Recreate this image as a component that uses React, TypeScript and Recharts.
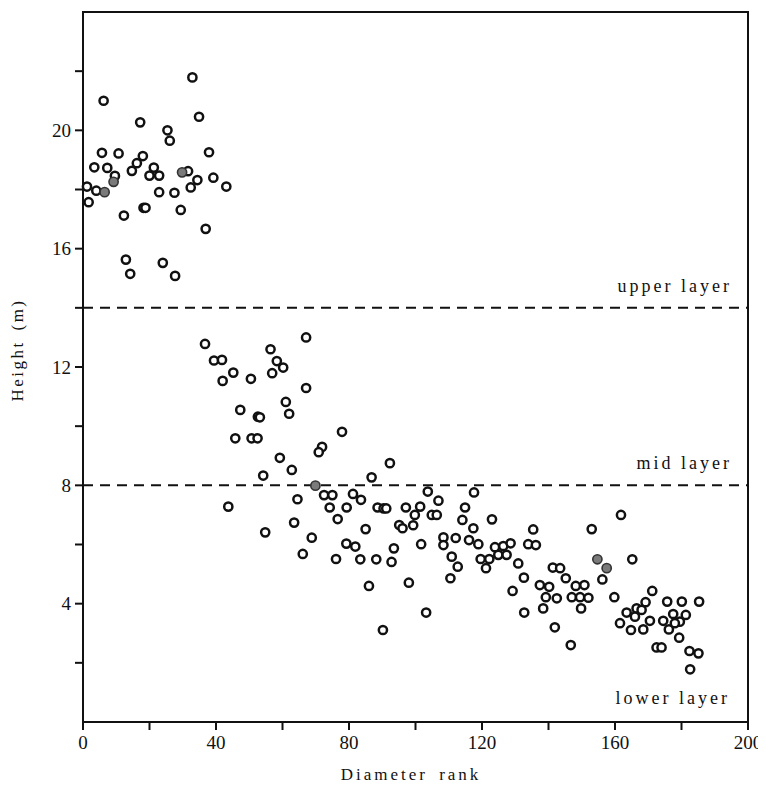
import React from "react";
import { ScatterChart, Scatter, XAxis, YAxis, ReferenceLine, ReferenceArea } from "recharts";

// Open circles: diameter rank and height (m)
const openRank = [
  32.9, 6.2, 17.2, 34.9, 25.4, 26.1, 5.7, 10.7, 37.9, 18.0, 3.4, 7.3, 16.2, 14.7, 21.3, 20.0, 22.9, 31.6, 34.4, 39.2,
  32.4, 43.1, 9.6, 1.2, 4.0, 1.7, 22.9, 27.5, 18.2, 18.8, 29.4, 12.3, 36.9, 12.9, 24.0, 14.2, 27.7,
  36.7, 39.4, 41.8, 42.0, 45.2, 67.1, 56.4, 58.3, 60.2, 56.9, 50.5, 67.1, 61.0, 62.0, 47.3, 52.6, 53.2, 45.8, 50.7,
  52.5, 77.9, 71.9, 70.9, 59.2, 62.8, 54.2, 92.3, 86.8,
  72.5, 75.0, 81.2, 83.6, 43.7, 64.5, 74.2, 79.3, 88.6, 90.4, 91.2, 76.6, 63.5, 54.8, 85.0, 68.8, 79.2, 81.9, 93.5,
  66.1, 76.1, 83.4, 88.2, 92.8, 86.0, 90.2,
  103.7, 106.9, 117.6, 97.1, 101.4, 99.8, 104.9, 106.4, 114.9, 114.1, 123.0, 95.1, 96.1, 99.3, 117.4, 135.4, 101.7,
  108.4, 108.4, 112.1, 116.1, 118.9, 110.9, 112.7, 110.5, 119.6, 122.2, 121.2, 123.9, 126.4, 128.6, 124.9, 127.4,
  133.9, 136.2, 130.9, 132.6, 129.2, 98.0, 103.2, 132.7, 141.3, 143.5, 137.4, 140.2, 139.2, 142.5, 138.4, 141.9,
  161.8, 153.0, 156.2, 165.2, 145.2, 148.2, 150.8, 147.0, 149.5, 152.0, 159.8, 171.2, 149.8, 169.2, 175.7, 180.1,
  185.3, 163.5, 166.5, 166.0, 168.0, 161.5, 164.8, 168.5, 170.5, 174.5, 177.5, 179.5, 181.3, 176.2, 178.0, 179.3,
  146.7, 172.5, 174.0, 182.4, 185.1, 182.6,
];
const openHeight = [
  21.79, 21.0, 20.27, 20.46, 20.0, 19.65, 19.24, 19.22, 19.26, 19.13, 18.75, 18.73, 18.89, 18.63, 18.74, 18.47, 18.47,
  18.62, 18.32, 18.4, 18.07, 18.1, 18.46, 18.1, 17.96, 17.57, 17.91, 17.89, 17.38, 17.38, 17.31, 17.12, 16.67, 15.63,
  15.52, 15.15, 15.08,
  12.78, 12.22, 12.24, 11.53, 11.81, 13.0, 12.6, 12.2, 11.98, 11.79, 11.6, 11.29, 10.82, 10.42, 10.55, 10.32, 10.3,
  9.59, 9.59, 9.59, 9.81, 9.3, 9.12, 8.93, 8.52, 8.33, 8.75, 8.27,
  7.67, 7.67, 7.71, 7.51, 7.28, 7.53, 7.25, 7.25, 7.25, 7.22, 7.22, 6.86, 6.74, 6.41, 6.52, 6.23, 6.03, 5.93, 5.87,
  5.68, 5.51, 5.5, 5.5, 5.41, 4.6, 3.11,
  7.79, 7.48, 7.76, 7.25, 7.28, 7.0, 7.0, 7.0, 7.25, 6.83, 6.85, 6.66, 6.55, 6.65, 6.55, 6.51, 6.01,
  6.24, 5.98, 6.22, 6.15, 6.01, 5.59, 5.25, 4.86, 5.51, 5.51, 5.2, 5.91, 5.95, 6.04, 5.65, 5.65,
  6.01, 5.98, 5.36, 4.88, 4.43, 4.71, 3.7, 3.7, 5.22, 5.2, 4.63, 4.57, 4.22, 4.18, 3.84, 3.2,
  7.0, 6.52, 4.82, 5.5, 4.86, 4.6, 4.63, 4.22, 4.22, 4.2, 4.22, 4.43, 3.84, 4.05, 4.07, 4.07,
  4.07, 3.7, 3.84, 3.56, 3.79, 3.34, 3.11, 3.13, 3.42, 3.42, 3.65, 3.39, 3.62, 3.13, 3.34, 2.85,
  2.6, 2.52, 2.52, 2.4, 2.32, 1.78,
];

// Shaded (filled) circles
const filledRank = [29.8, 9.2, 6.5, 69.9, 154.7, 157.5];
const filledHeight = [18.58, 18.26, 17.91, 7.99, 5.5, 5.2];

const xTicks = [0, 20, 40, 60, 80, 100, 120, 140, 160, 180, 200];
const yTicks = [2, 4, 6, 8, 10, 12, 14, 16, 18, 20, 22];

const layerBounds = [14, 8];
const layerNames = ["upper layer", "mid layer"];

const openData = openRank.map((r, i) => ({ rank: r, height: openHeight[i] }));
const filledData = filledRank.map((r, i) => ({ rank: r, height: filledHeight[i] }));

const FONT = "Liberation Serif, Times New Roman, DejaVu Serif, serif";

const OpenDot = (props: any) => (
  <circle cx={props.cx} cy={props.cy} r={4.1} fill="#fff" stroke="#111" strokeWidth={2.5} />
);
const FilledDot = (props: any) => (
  <circle cx={props.cx} cy={props.cy} r={4.6} fill="#7a7a7a" stroke="#333" strokeWidth={1.6} />
);

const labelStyle = {
  fill: "#111",
  fontSize: 18,
  fontFamily: FONT,
  letterSpacing: 3,
};

export default function App() {
  return (
    <div style={{ position: "relative", width: 758, height: 777, background: "#fff" }}>
      <ScatterChart width={758} height={777} margin={{ top: 4, right: 18, left: 15, bottom: 1 }}>
        <XAxis
          type="number"
          dataKey="rank"
          domain={[0, 200]}
          ticks={xTicks}
          interval={0}
          tickFormatter={(v: number) => (v % 40 === 0 ? String(v) : "")}
          height={62}
          axisLine={{ stroke: "#111", strokeWidth: 2 }}
          tickLine={{ stroke: "#111", strokeWidth: 2 }}
          tickSize={8}
          tickMargin={6}
          tick={{ fill: "#111", fontSize: 19, fontFamily: FONT }}
        />
        <YAxis
          type="number"
          dataKey="height"
          domain={[0, 24]}
          ticks={yTicks}
          interval={0}
          tickFormatter={(v: number) => (v % 4 === 0 ? String(v) : "")}
          width={60}
          axisLine={{ stroke: "#111", strokeWidth: 2 }}
          tickLine={{ stroke: "#111", strokeWidth: 2 }}
          tickSize={8}
          tickMargin={4}
          tick={{ fill: "#111", fontSize: 19, fontFamily: FONT }}
        />
        <ReferenceArea
          x1={0}
          x2={200}
          y1={0}
          y2={24}
          fill="none"
          fillOpacity={0}
          stroke="#111"
          strokeWidth={2}
          ifOverflow="visible"
          label={{ value: "lower layer", position: "insideBottomRight", offset: 18, ...labelStyle }}
        />
        {layerBounds.map((b, i) => (
          <ReferenceLine
            key={b}
            y={b}
            stroke="#111"
            strokeWidth={2}
            strokeDasharray="10 7"
            label={{ value: layerNames[i], position: "insideBottomRight", offset: 16, ...labelStyle }}
          />
        ))}
        <Scatter data={openData} shape={OpenDot} isAnimationActive={false} />
        <Scatter data={filledData} shape={FilledDot} isAnimationActive={false} />
      </ScatterChart>
      <div
        style={{
          position: "absolute",
          left: 403,
          top: 767,
          transform: "translate(-50%, -50%)",
          whiteSpace: "nowrap",
          fontFamily: FONT,
          fontSize: 17,
          letterSpacing: 3,
          wordSpacing: 4,
          color: "#111",
        }}
      >
        Diameter rank
      </div>
      <div
        style={{
          position: "absolute",
          left: 10,
          top: 342,
          transform: "translate(-50%, -50%) rotate(-90deg)",
          whiteSpace: "nowrap",
          fontFamily: FONT,
          fontSize: 17,
          letterSpacing: 2.5,
          wordSpacing: 3,
          color: "#111",
        }}
      >
        Height (m)
      </div>
    </div>
  );
}
